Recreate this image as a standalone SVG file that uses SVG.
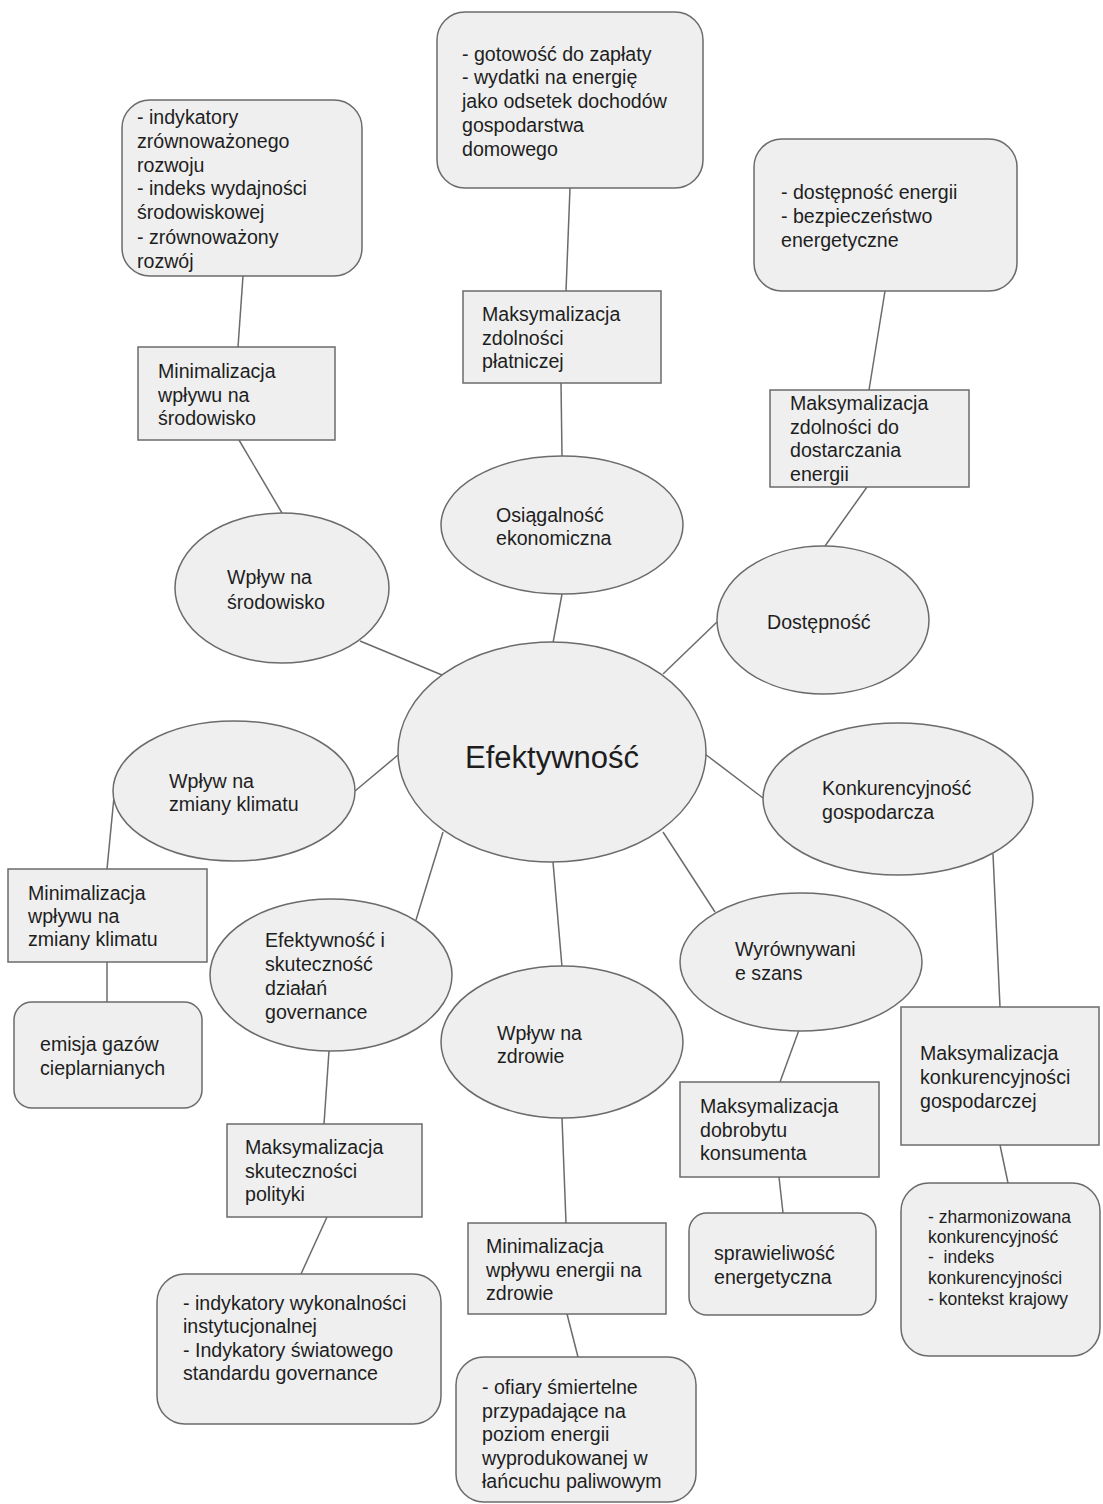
<svg xmlns="http://www.w3.org/2000/svg" width="1103" height="1504" viewBox="0 0 1103 1504">
<style>
.n{fill:#efefef;stroke:#6b6b6b;stroke-width:1.5}
.c line{stroke:#6b6b6b;stroke-width:1.5}
text{font-family:"Liberation Sans",Arial,sans-serif;font-size:19.6px;fill:#1e1e1e}
.s{font-size:17.5px}
.big{font-size:31px}
</style>
<rect width="1103" height="1504" fill="#fff"/>
<g class="c">
<line x1="243" y1="276" x2="238" y2="347"/>
<line x1="239" y1="440" x2="282" y2="513"/>
<line x1="360" y1="641" x2="442" y2="675"/>
<line x1="570" y1="188" x2="566" y2="291"/>
<line x1="561" y1="383" x2="562" y2="456"/>
<line x1="562" y1="594" x2="553" y2="643"/>
<line x1="885" y1="291" x2="869" y2="390"/>
<line x1="867" y1="487" x2="825" y2="546"/>
<line x1="717" y1="622" x2="663" y2="674"/>
<line x1="355" y1="791" x2="398" y2="755"/>
<line x1="114" y1="797" x2="107" y2="869"/>
<line x1="107" y1="962" x2="107" y2="1002"/>
<line x1="705" y1="754" x2="763" y2="798"/>
<line x1="993" y1="854" x2="1000" y2="1007"/>
<line x1="1000" y1="1145" x2="1008" y2="1183"/>
<line x1="443" y1="832" x2="416" y2="920"/>
<line x1="329" y1="1051" x2="324" y2="1124"/>
<line x1="327" y1="1217" x2="301" y2="1274"/>
<line x1="553" y1="862" x2="562" y2="967"/>
<line x1="562" y1="1118" x2="566" y2="1223"/>
<line x1="567" y1="1314" x2="578" y2="1357"/>
<line x1="663" y1="832" x2="715" y2="912"/>
<line x1="799" y1="1030" x2="780" y2="1082"/>
<line x1="779" y1="1177" x2="783" y2="1213"/>
</g>
<g id="n1"><rect class="n" x="122" y="100" width="240" height="176" rx="28"/>
<text><tspan x="137" y="124">- indykatory</tspan><tspan x="137" y="148">zrównoważonego</tspan><tspan x="137" y="172">rozwoju</tspan><tspan x="137" y="195">- indeks wydajności</tspan><tspan x="137" y="219">środowiskowej</tspan><tspan x="137" y="244">- zrównoważony</tspan><tspan x="137" y="268">rozwój</tspan></text></g>
<g id="n2"><rect class="n" x="138" y="347" width="197" height="93"/>
<text><tspan x="158" y="378">Minimalizacja</tspan><tspan x="158" y="402">wpływu na</tspan><tspan x="158" y="425">środowisko</tspan></text></g>
<g id="n3"><ellipse class="n" cx="282" cy="588" rx="107" ry="75"/>
<text><tspan x="227" y="584">Wpływ na</tspan><tspan x="227" y="609">środowisko</tspan></text></g>
<g id="n4"><rect class="n" x="437" y="12" width="266" height="176" rx="28"/>
<text><tspan x="462" y="61">- gotowość do zapłaty</tspan><tspan x="462" y="84">- wydatki na energię</tspan><tspan x="462" y="108">jako odsetek dochodów</tspan><tspan x="462" y="132">gospodarstwa</tspan><tspan x="462" y="156">domowego</tspan></text></g>
<g id="n5"><rect class="n" x="463" y="291" width="198" height="92"/>
<text><tspan x="482" y="321">Maksymalizacja</tspan><tspan x="482" y="345">zdolności</tspan><tspan x="482" y="368">płatniczej</tspan></text></g>
<g id="n6"><ellipse class="n" cx="562" cy="525" rx="121" ry="69"/>
<text><tspan x="496" y="522">Osiągalność</tspan><tspan x="496" y="545">ekonomiczna</tspan></text></g>
<g id="n7"><rect class="n" x="754" y="139" width="263" height="152" rx="28"/>
<text><tspan x="781" y="199">- dostępność energii</tspan><tspan x="781" y="223">- bezpieczeństwo</tspan><tspan x="781" y="247">energetyczne</tspan></text></g>
<g id="n8"><rect class="n" x="770" y="390" width="199" height="97"/>
<text><tspan x="790" y="410">Maksymalizacja</tspan><tspan x="790" y="434">zdolności do</tspan><tspan x="790" y="457">dostarczania</tspan><tspan x="790" y="481">energii</tspan></text></g>
<g id="n9"><ellipse class="n" cx="823" cy="620" rx="106" ry="74"/>
<text x="767" y="629">Dostępność</text></g>
<g id="n10"><ellipse class="n" cx="552" cy="752" rx="154" ry="110"/>
<text class="big" x="552" y="768" text-anchor="middle">Efektywność</text></g>
<g id="n11"><ellipse class="n" cx="234" cy="791" rx="121" ry="70"/>
<text><tspan x="169" y="788">Wpływ na</tspan><tspan x="169" y="811">zmiany klimatu</tspan></text></g>
<g id="n12"><rect class="n" x="8" y="869" width="199" height="93"/>
<text><tspan x="28" y="900">Minimalizacja</tspan><tspan x="28" y="923">wpływu na</tspan><tspan x="28" y="946">zmiany klimatu</tspan></text></g>
<g id="n13"><rect class="n" x="14" y="1002" width="188" height="106" rx="18"/>
<text><tspan x="40" y="1051">emisja gazów</tspan><tspan x="40" y="1075">cieplarnianych</tspan></text></g>
<g id="n14"><ellipse class="n" cx="898" cy="799" rx="135" ry="76"/>
<text><tspan x="822" y="795">Konkurencyjność</tspan><tspan x="822" y="819">gospodarcza</tspan></text></g>
<g id="n15"><rect class="n" x="901" y="1007" width="198" height="138"/>
<text><tspan x="920" y="1060">Maksymalizacja</tspan><tspan x="920" y="1084">konkurencyjności</tspan><tspan x="920" y="1108">gospodarczej</tspan></text></g>
<g id="n16"><rect class="n" x="901" y="1183" width="199" height="173" rx="28"/>
<text class="s" xml:space="preserve"><tspan x="928" y="1223">- zharmonizowana</tspan><tspan x="928" y="1243">konkurencyjność</tspan><tspan x="928" y="1263">-  indeks</tspan><tspan x="928" y="1284">konkurencyjności</tspan><tspan x="928" y="1305">- kontekst krajowy</tspan></text></g>
<g id="n17"><ellipse class="n" cx="331" cy="975" rx="121" ry="76"/>
<text><tspan x="265" y="947">Efektywność i</tspan><tspan x="265" y="971">skuteczność</tspan><tspan x="265" y="995">działań</tspan><tspan x="265" y="1019">governance</tspan></text></g>
<g id="n18"><rect class="n" x="227" y="1124" width="195" height="93"/>
<text><tspan x="245" y="1154">Maksymalizacja</tspan><tspan x="245" y="1178">skuteczności</tspan><tspan x="245" y="1201">polityki</tspan></text></g>
<g id="n19"><rect class="n" x="157" y="1274" width="284" height="150" rx="28"/>
<text><tspan x="183" y="1310">- indykatory wykonalności</tspan><tspan x="183" y="1333">instytucjonalnej</tspan><tspan x="183" y="1357">- Indykatory światowego</tspan><tspan x="183" y="1380">standardu governance</tspan></text></g>
<g id="n20"><ellipse class="n" cx="562" cy="1042" rx="121" ry="76"/>
<text><tspan x="497" y="1040">Wpływ na</tspan><tspan x="497" y="1063">zdrowie</tspan></text></g>
<g id="n21"><rect class="n" x="468" y="1223" width="198" height="91"/>
<text><tspan x="486" y="1253">Minimalizacja</tspan><tspan x="486" y="1277">wpływu energii na</tspan><tspan x="486" y="1300">zdrowie</tspan></text></g>
<g id="n22"><rect class="n" x="456" y="1357" width="240" height="145" rx="28"/>
<text><tspan x="482" y="1394">- ofiary śmiertelne</tspan><tspan x="482" y="1418">przypadające na</tspan><tspan x="482" y="1441">poziom energii</tspan><tspan x="482" y="1465">wyprodukowanej w</tspan><tspan x="482" y="1488">łańcuchu paliwowym</tspan></text></g>
<g id="n23"><ellipse class="n" cx="801" cy="962" rx="121" ry="69"/>
<text><tspan x="735" y="956">Wyrównywani</tspan><tspan x="735" y="980">e szans</tspan></text></g>
<g id="n24"><rect class="n" x="680" y="1082" width="199" height="95"/>
<text><tspan x="700" y="1113">Maksymalizacja</tspan><tspan x="700" y="1137">dobrobytu</tspan><tspan x="700" y="1160">konsumenta</tspan></text></g>
<g id="n25"><rect class="n" x="689" y="1213" width="187" height="102" rx="18"/>
<text><tspan x="714" y="1260">sprawieliwość</tspan><tspan x="714" y="1284">energetyczna</tspan></text></g>
</svg>
